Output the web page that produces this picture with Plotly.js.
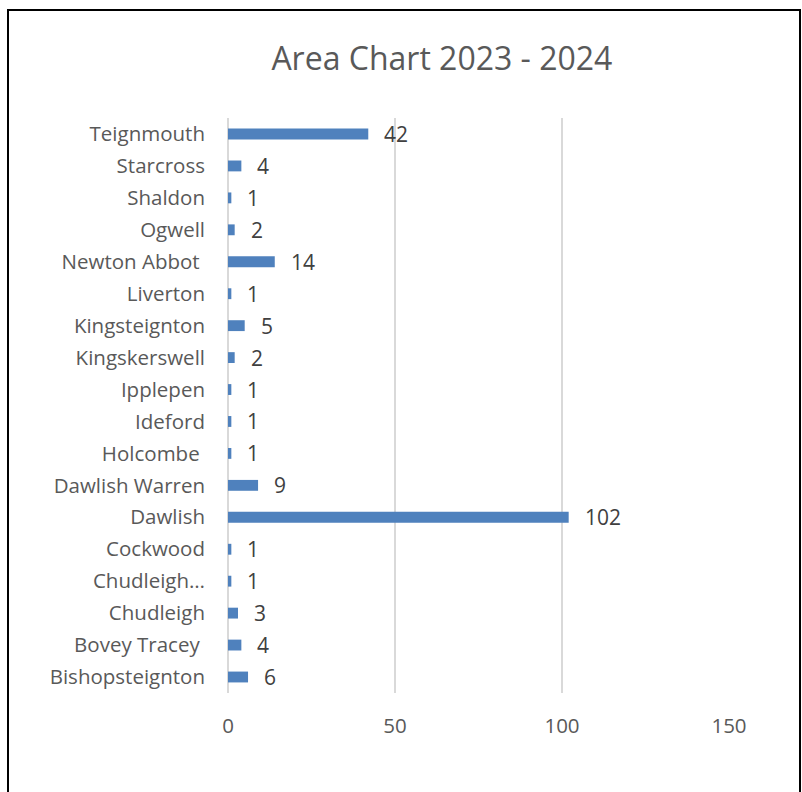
<!DOCTYPE html>
<html>
<head>
<meta charset="utf-8">
<script src="https://cdn.plot.ly/plotly-3.0.1.min.js"></script>
<style>
html,body{margin:0;padding:0;background:#fff;}
#chart{width:802px;height:792px;}
</style>
</head>
<body>
<div id="chart"></div>
<script>
var categories = ["Bishopsteignton", "Bovey Tracey\u00A0", "Chudleigh", "Chudleigh\u2026", "Cockwood", "Dawlish", "Dawlish Warren", "Holcombe\u00A0", "Ideford", "Ipplepen", "Kingskerswell", "Kingsteignton", "Liverton", "Newton Abbot\u00A0", "Ogwell", "Shaldon", "Starcross", "Teignmouth"];
var values = [6, 4, 3, 1, 1, 102, 9, 1, 1, 1, 2, 5, 1, 14, 2, 1, 4, 42];
var xTicks = [0, 50, 100, 150];
var chartTitle = "Area Chart 2023 - 2024";

var FONT = "'Open Sans', sans-serif";

var annotations = categories.map(function (c, i) {
  return {
    x: values[i], y: c, xref: 'x', yref: 'y',
    text: String(values[i]), showarrow: false,
    xanchor: 'left', yanchor: 'middle', xshift: 14,
    font: {family: FONT, size: 21, color: '#404040'}
  };
});

var trace = {
  type: 'bar', orientation: 'h',
  x: values, y: categories,
  marker: {color: '#4f81bd'},
  hoverinfo: 'none'
};

var layout = {
  width: 802, height: 792,
  margin: {l: 228, r: 73, t: 118, b: 99},
  paper_bgcolor: '#ffffff', plot_bgcolor: '#ffffff',
  showlegend: false,
  bargap: 0.66,
  title: {
    text: chartTitle,
    font: {family: FONT, size: 32, color: '#595959'},
    xref: 'container', x: 0.551, xanchor: 'center',
    yref: 'container', y: 0.926, yanchor: 'middle'
  },
  xaxis: {
    range: [0, 150], tickvals: xTicks, ticktext: xTicks.map(String),
    showgrid: true, gridcolor: '#d9d9d9', gridwidth: 1.5,
    zeroline: true, zerolinecolor: '#d9d9d9', zerolinewidth: 1.5,
    showline: false, ticks: '', ticklabelstandoff: 18,
    tickfont: {family: FONT, size: 20.5, color: '#595959'},
    fixedrange: true
  },
  yaxis: {
    type: 'category', categoryorder: 'array', categoryarray: categories,
    showgrid: false, zeroline: false, showline: false, ticks: '',
    ticklabelstandoff: 22,
    tickfont: {family: FONT, size: 20.5, color: '#595959'},
    fixedrange: true
  },
  annotations: annotations,
  shapes: [{
    type: 'rect', xref: 'paper', yref: 'paper',
    x0: (8 - 228) / 501, x1: (800 - 228) / 501,
    y0: (693 - 820) / 575, y1: (693 - 10) / 575,
    line: {color: '#000000', width: 2}, fillcolor: 'rgba(0,0,0,0)',
    layer: 'above'
  }]
};

Plotly.newPlot('chart', [trace], layout, {displayModeBar: false, staticPlot: true});
</script>
</body>
</html>
